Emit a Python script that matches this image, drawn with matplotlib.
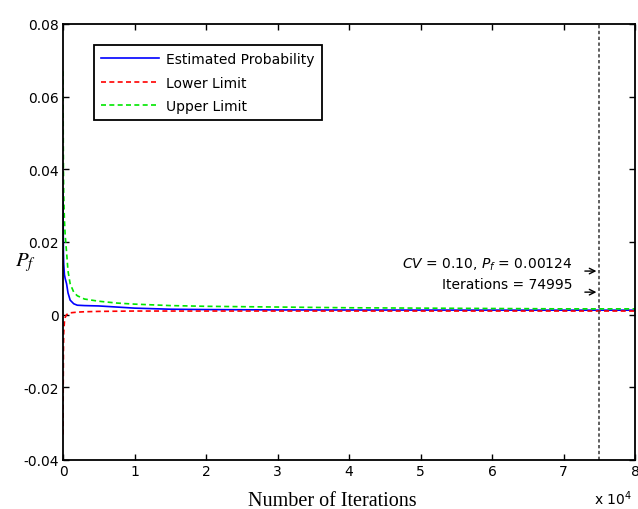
# Monte Carlo estimate of failure probability with confidence limits

import matplotlib.pyplot as plt

# Data
iterations = [10, 30, 60, 100, 200, 300, 500, 700, 1000, 1500, 2000, 3000, 5000,
              7500, 10000, 15000, 20000, 30000, 40000, 50000, 60000, 70000, 74995, 80000]
estimated = [0.034, 0.024, 0.017, 0.014, 0.011, 0.010, 0.0085, 0.0060, 0.0040, 0.0030,
             0.0026, 0.0025, 0.0024, 0.0021, 0.0018, 0.0015, 0.0014, 0.0013, 0.00128,
             0.00126, 0.00125, 0.00124, 0.00124, 0.00124]
lower = [-0.033, -0.020, -0.010, -0.005, -0.002, -0.0008, 0.0, 0.0003, 0.0005, 0.0006,
         0.0007, 0.0008, 0.0009, 0.00095, 0.0010, 0.0010, 0.0010, 0.0010, 0.0010,
         0.0010, 0.0010, 0.0010, 0.0010, 0.0010]
upper = [0.067, 0.050, 0.040, 0.033, 0.026, 0.022, 0.0172, 0.012, 0.0085, 0.0062,
         0.0052, 0.0043, 0.0037, 0.0032, 0.0029, 0.0025, 0.0023, 0.0021, 0.0019,
         0.0018, 0.0017, 0.0016, 0.0016, 0.0016]

final_iter = 74995
final_cv = 0.10
final_pf = 0.00124
x_scale = 1e4

plt.rcParams['font.family'] = 'DejaVu Sans'
plt.rcParams['mathtext.fontset'] = 'custom'
plt.rcParams['mathtext.rm'] = 'DejaVu Sans'
plt.rcParams['mathtext.it'] = 'DejaVu Sans:italic'

fig = plt.figure(figsize=(6.38, 5.1), dpi=100)
ax = fig.add_axes([63 / 638, 49 / 510, 572 / 638, 436 / 510])

xs = [n / x_scale for n in iterations]
ax.plot(xs, estimated, color=(0, 0, 1), lw=1.2, label='Estimated Probability')
ax.plot(xs, lower, color=(1, 0, 0), lw=1.2, ls=(0, (3, 2)), label='Lower Limit')
ax.plot(xs, upper, color=(0, 0.9, 0), lw=1.2, ls=(0, (3, 2)), label='Upper Limit')

ax.axvline(final_iter / x_scale, color='#444444', lw=1.2, ls=(0, (2, 1.5)))

ax.set_xlim(0, 8)
ax.set_ylim(-0.04, 0.08)
ax.set_xticks(range(0, 9))
ax.set_yticks([-0.04, -0.02, 0, 0.02, 0.04, 0.06, 0.08])
ax.set_yticklabels(['-0.04', '-0.02', '0', '0.02', '0.04', '0.06', '0.08'])
ax.tick_params(direction='in', top=True, right=True, length=4, labelsize=10,
               width=1, pad=3)
for s in ax.spines.values():
    s.set_linewidth(1.3)

# annotation
ax.annotate('', xy=(final_iter / x_scale, 0.0120), xytext=(7.26, 0.0120),
            arrowprops=dict(arrowstyle='->', color='black', lw=1))
ax.annotate('', xy=(final_iter / x_scale, 0.0062), xytext=(7.26, 0.0062),
            arrowprops=dict(arrowstyle='->', color='black', lw=1))
ax.text(7.12, 0.0140, r'$\mathit{CV}$ = %.2f, $\mathit{P_f}$ = %.5f' % (final_cv, final_pf),
        ha='right', va='center', fontsize=10)
ax.text(7.12, 0.0084, 'Iterations = %d' % final_iter, ha='right', va='center', fontsize=10)

leg = ax.legend(loc='upper left', bbox_to_anchor=(0.054, 0.952), borderaxespad=0,
                fontsize=10, fancybox=False, framealpha=1, edgecolor='black',
                handlelength=4.2, handletextpad=0.5, labelspacing=0.7,
                borderpad=0.5)
leg.get_frame().set_linewidth(1.3)

fig.text(332 / 638, 1 - 502 / 510, 'Number of Iterations', ha='center', va='center',
         fontsize=14.5, family='Liberation Serif')
fig.text(594 / 638, 1 - 499 / 510, r'x 10$^4$', ha='left', va='center', fontsize=10)
fig.text(25 / 638, 1 - 263 / 510, r'$P_f$', ha='center', va='center', fontsize=15,
         math_fontfamily='stix')

fig.savefig('out.png', dpi=100)
